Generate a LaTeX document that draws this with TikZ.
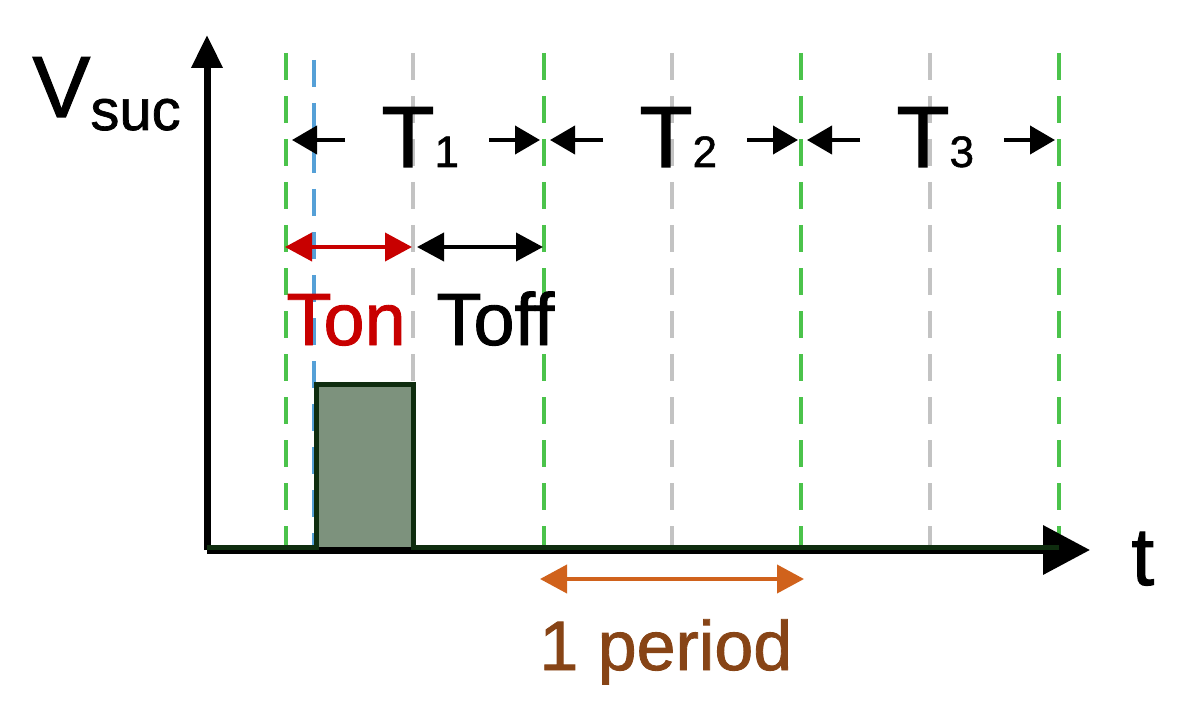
\documentclass[tikz,border=0pt]{standalone}
\usepackage{fontspec}
\setmainfont{Liberation Sans}[FakeBold=1.2]
\usetikzlibrary{arrows.meta}
\definecolor{vgreen}{RGB}{75,195,75}
\definecolor{vgray}{RGB}{195,195,195}
\definecolor{vblue}{RGB}{85,160,215}
\definecolor{vred}{RGB}{200,0,0}
\definecolor{vorange}{RGB}{208,98,28}
\definecolor{vbrown}{RGB}{135,68,22}
\definecolor{pulsefill}{RGB}{125,146,125}
\definecolor{pulseedge}{RGB}{15,45,15}
\begin{document}
\begin{tikzpicture}[x=0.5pt,y=-0.5pt,
  guide/.style={line width=1.6pt, dash pattern=on 13.5pt off 8pt},
  greenguide/.style={guide, vgreen},
  grayguide/.style={guide, vgray},
  blueguide/.style={guide, vblue},
  axisline/.style={line width=3.5pt, black},
  dimarrow/.style={line width=2pt, {Triangle[length=13.5pt,width=14pt]}-{Triangle[length=13.5pt,width=14pt]}},
  tarrow/.style={line width=2pt, -{Triangle[length=12.5pt,width=14pt]}},
  lbl/.style={inner sep=0pt, anchor=base west},
  bigT/.style={lbl, font=\fontsize{43.5}{50}\selectfont},
  midlbl/.style={lbl, font=\fontsize{37}{42}\selectfont}
]
\useasboundingbox (0,0) rectangle (1179,706);

% guide lines
\foreach \x/\n in {286/ga,544/gb,801/gc,1059/gd}{
  \coordinate (\n t) at (\x,53);
  \coordinate (\n b) at (\x,550);
  \draw[greenguide] (\n t) -- (\n b);
}
\foreach \x/\n in {413/ha,672/hb,930/hc}{
  \coordinate (\n t) at (\x,53);
  \coordinate (\n b) at (\x,550);
  \draw[grayguide] (\n t) -- (\n b);
}
\coordinate (bt) at (314,60);
\coordinate (bb) at (314,550);
\draw[blueguide] (bt) -- (bb);

% pulse
\coordinate (p1) at (316,548);
\coordinate (p2) at (413,384);
\fill[pulsefill] (p1) rectangle (p2);

% axes
\coordinate (o) at (207,550);
\coordinate (ytip) at (207,35);
\coordinate (xtip) at (1090,550);
\draw[axisline, -{Triangle[length=16.5pt,width=15pt]}] (o) -- (ytip);
\draw[axisline, -{Triangle[length=23.5pt,width=24pt]}] (o) -- (xtip);
\draw[pulseedge, line width=2.5pt, line join=miter] (207,547) -- (316,547) -- (316,384) -- (413,384) -- (413,547) -- (1059,547);

% axis labels
\node[lbl] (vlab) at (32,117) {\fontsize{43.5}{50}\selectfont V\raisebox{-6.5pt}{\fontsize{29}{34}\selectfont suc}};
\node[lbl, font=\fontsize{41}{46}\selectfont] (tlab) at (1131,585) {t};

% period labels T1..T3
\foreach \g/\i in {286/1,544/2,801/3}{
  \node[bigT] (T\i) at (\g+95,167) {T\fontsize{22}{26}\selectfont\i};
  \coordinate (la\i) at (\g+59,140);
  \coordinate (lt\i) at (\g+6,140);
  \coordinate (ra\i) at (\g+203,140);
  \coordinate (rt\i) at (\g+254,140);
  \draw[tarrow] (la\i) -- (lt\i);
  \draw[tarrow] (ra\i) -- (rt\i);
}

% Ton / Toff
\coordinate (on1) at (285,247);
\coordinate (on2) at (412,247);
\coordinate (off1) at (417,247);
\coordinate (off2) at (543,247);
\draw[dimarrow, vred] (on1) -- (on2);
\draw[dimarrow, black] (off1) -- (off2);
\node[midlbl, text=vred] (ton) at (286,345) {Ton};
\node[midlbl] (toff) at (436,345) {Toff};

% one period
\coordinate (per1) at (540,579);
\coordinate (per2) at (804,579);
\draw[dimarrow, vorange] (per1) -- (per2);
\node[lbl, font=\fontsize{35}{40}\selectfont, text=vbrown] (perlab) at (539,670) {1 period};
\end{tikzpicture}
\end{document}
